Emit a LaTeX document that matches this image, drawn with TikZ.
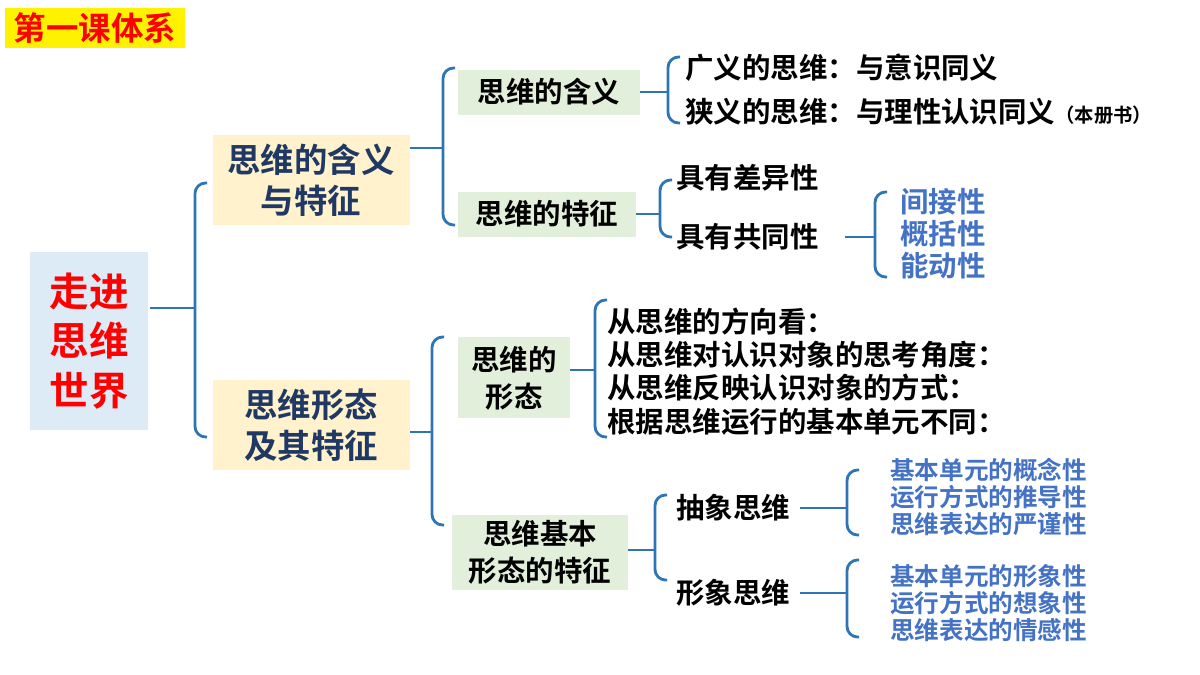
\documentclass[tikz,border=0pt]{standalone}
\usepackage{fontspec}
\newfontfamily\cjk{Noto Sans CJK SC}[BoldFont={Noto Sans CJK SC Bold}]
\definecolor{brc}{HTML}{2E75B6}
\definecolor{navy}{HTML}{1F3864}
\definecolor{lblue}{HTML}{4472C4}
\definecolor{ybox}{HTML}{FFF2CC}
\definecolor{gbox}{HTML}{E2EFDA}
\definecolor{bbox}{HTML}{DDEBF7}
\newcommand{\mybrace}[5]{% tipx tipy barx top bottom
 \draw[brc,line width=1.6pt,rounded corners=6pt] (#3+12,#4)--(#3,#4)--(#3,#2)--(#3,#5)--(#3+12,#5);
 \draw[brc,line width=1.6pt] (#1,#2)--(#3,#2);}
\begin{document}
\begin{tikzpicture}[x=0.02cm,y=-0.02cm,font=\cjk\bfseries,
 t/.style={anchor=west,inner sep=0pt,font=\cjk\bfseries\fontsize{16.2}{19}\selectfont},
 bl/.style={t,text=lblue},
 sb/.style={anchor=west,inner sep=0pt,text=lblue,font=\cjk\bfseries\fontsize{14}{16}\selectfont},
 gt/.style={align=center,font=\cjk\bfseries\fontsize{16.2}{21}\selectfont},
 yt/.style={align=center,text=navy,font=\cjk\bfseries\fontsize{19}{23}\selectfont}]
\useasboundingbox (0,0) rectangle (1200,675);
\fill[yellow] (5,8) rectangle (185,48);
\node (ti) at (95,28) {\textcolor{red}{\fontsize{18.5}{20}\selectfont 第一课体系}};
\fill[bbox] (30,252) rectangle (148,430);
\node[align=center,text=red,font=\cjk\bfseries\fontsize{22.5}{28}\selectfont] (root) at (89,341) {走进\\思维\\世界};
\mybrace{150}{308}{195}{183}{437}
\fill[ybox] (213,135) rectangle (410,225);
\node[yt] (a) at (311,180) {思维的含义\\与特征};
\fill[ybox] (213,380) rectangle (410,470);
\node[yt] (b) at (311,425) {思维形态\\及其特征};
\mybrace{410}{148}{443}{68}{225}
\fill[gbox] (458,70) rectangle (640,115);
\node[gt] (a1) at (549,92) {思维的含义};
\fill[gbox] (458,192) rectangle (636,237);
\node[gt] (a2) at (547,214) {思维的特征};
\mybrace{640}{92}{668}{57}{123}
\node[t] (a11) at (685,68) {广义的思维：与意识同义};
\node[t] (a12) at (685,112) {狭义的思维：与理性认识同义{\fontsize{11}{12}\selectfont（本册书）}};
\mybrace{636}{214}{660}{180}{237}
\node[t] (a21) at (676,178) {具有差异性};
\node[t] (a22) at (676,237) {具有共同性};
\mybrace{845}{237}{875}{192}{277}
\node[bl] at (900,202) {间接性};
\node[bl] at (900,234) {概括性};
\node[bl] at (900,266) {能动性};
\mybrace{410}{432}{432}{337}{525}
\fill[gbox] (458,337) rectangle (570,418);
\node[gt] (b1) at (514,378) {思维的\\形态};
\fill[gbox] (452,515) rectangle (628,590);
\node[gt] (b2) at (540,552) {思维基本\\形态的特征};
\mybrace{570}{370}{595}{300}{437}
\node[t] at (607,322) {从思维的方向看：};
\node[t] at (607,355) {从思维对认识对象的思考角度：};
\node[t] at (607,388) {从思维反映认识对象的方式：};
\node[t] at (607,422) {根据思维运行的基本单元不同：};
\mybrace{628}{550}{655}{495}{580}
\node[t] (c1) at (676,508) {抽象思维};
\node[t] (c2) at (676,593) {形象思维};
\mybrace{800}{508}{847}{470}{535}
\node[sb] at (890,470) {基本单元的概念性};
\node[sb] at (890,497) {运行方式的推导性};
\node[sb] at (890,524) {思维表达的严谨性};
\mybrace{800}{593}{847}{560}{637}
\node[sb] at (890,576) {基本单元的形象性};
\node[sb] at (890,603) {运行方式的想象性};
\node[sb] at (890,630) {思维表达的情感性};
\end{tikzpicture}
\end{document}
